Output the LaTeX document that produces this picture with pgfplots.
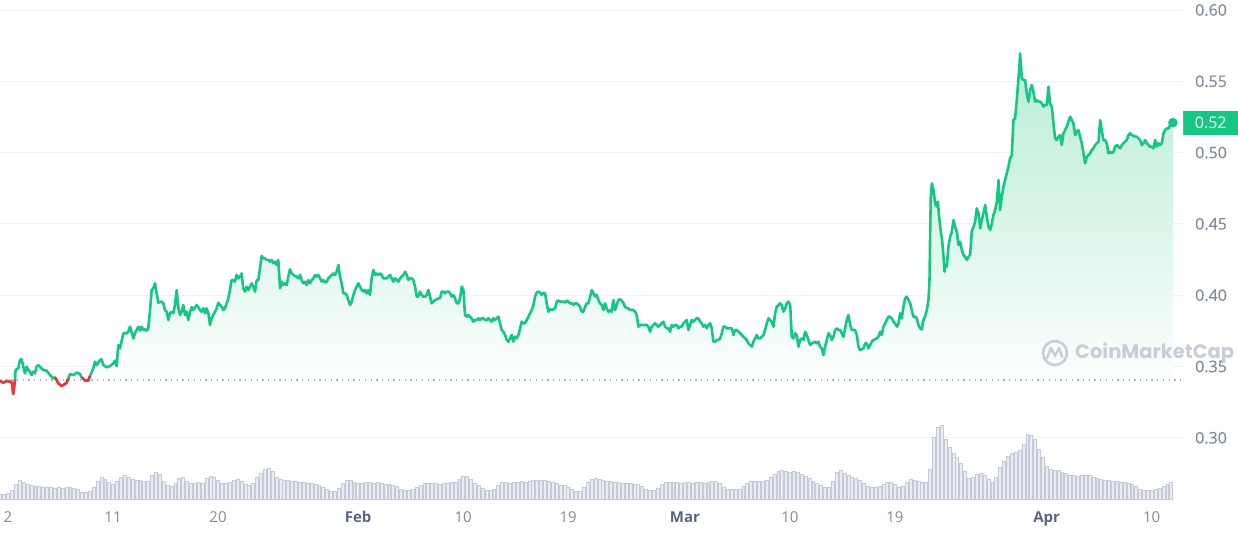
\documentclass[border=0pt]{standalone}
\usepackage{pgfplots}
\pgfplotsset{compat=1.18}
\usepackage{pgfplotstable}
\usepackage{fontspec}
\setmainfont{Open Sans}
\newfontfamily\tickfont{Open Sans}[FakeBold=0.35]
\newfontfamily\wmfont{Poppins}
\definecolor{cmcgreen}{RGB}{22,199,132}
\definecolor{cmcred}{RGB}{234,57,67}
\definecolor{ticktext}{RGB}{128,138,157}
\definecolor{monthtext}{RGB}{88,102,126}
\definecolor{gridc}{RGB}{240,241,244}
\definecolor{volfill}{RGB}{233,236,242}
\definecolor{voledge}{RGB}{196,202,216}
\definecolor{dotc}{RGB}{170,176,190}
\definecolor{fillTop}{RGB}{184,237,212}
\definecolor{wm}{RGB}{200,205,215}

\pgfplotstableread{
d p
0.31 0.3400
0.60 0.3386
0.88 0.3398
1.17 0.3394
1.34 0.3386
1.45 0.3307
1.60 0.3405
1.65 0.3475
1.88 0.3487
2.02 0.3545
2.17 0.3550
2.31 0.3499
2.45 0.3452
2.60 0.3499
2.74 0.3475
2.88 0.3464
3.02 0.3440
3.17 0.3464
3.31 0.3452
3.45 0.3499
3.60 0.3510
3.74 0.3499
4.02 0.3475
4.31 0.3471
4.60 0.3440
4.88 0.3417
5.02 0.3424
5.17 0.3405
5.31 0.3382
5.60 0.3363
5.88 0.3377
6.02 0.3386
6.17 0.3417
6.31 0.3447
6.60 0.3440
6.88 0.3457
7.17 0.3447
7.31 0.3424
7.60 0.3402
7.88 0.3402
8.02 0.3433
8.31 0.3487
8.45 0.3534
8.60 0.3510
8.88 0.3545
9.02 0.3550
9.17 0.3510
9.45 0.3494
9.74 0.3503
10.02 0.3522
10.17 0.3541
10.31 0.3503
10.45 0.3651
10.60 0.3627
10.88 0.3732
11.17 0.3732
11.31 0.3744
11.45 0.3779
11.60 0.3737
11.74 0.3697
11.88 0.3732
12.02 0.3756
12.17 0.3779
12.31 0.3751
12.45 0.3779
12.60 0.3756
12.74 0.3761
12.88 0.3751
13.02 0.3768
13.17 0.3896
13.31 0.4036
13.45 0.4048
13.60 0.4083
13.74 0.4013
13.88 0.3948
14.17 0.3955
14.31 0.3943
14.45 0.3896
14.60 0.3884
14.74 0.3826
14.88 0.3873
15.02 0.3884
15.17 0.3873
15.31 0.3931
15.45 0.4036
15.60 0.3908
15.74 0.3861
15.88 0.3884
16.02 0.3931
16.17 0.3861
16.31 0.3884
16.45 0.3826
16.60 0.3884
16.74 0.3915
16.88 0.3896
17.02 0.3915
17.17 0.3931
17.31 0.3915
17.45 0.3896
17.60 0.3884
17.74 0.3908
17.88 0.3873
18.02 0.3908
18.17 0.3873
18.31 0.3791
18.45 0.3838
18.59 0.3861
18.74 0.3884
18.88 0.3908
19.02 0.3947
19.16 0.3931
19.31 0.3919
19.45 0.3896
19.59 0.3908
19.74 0.3943
19.88 0.3978
20.02 0.4036
20.16 0.4106
20.31 0.4106
20.45 0.4095
20.59 0.4142
20.74 0.4118
20.88 0.4130
21.02 0.4153
21.16 0.4048
21.31 0.4025
21.45 0.4060
21.59 0.4036
21.74 0.4060
21.88 0.4083
22.02 0.4060
22.16 0.4025
22.31 0.4106
22.45 0.4106
22.59 0.4188
22.74 0.4275
22.88 0.4258
23.02 0.4258
23.16 0.4247
23.31 0.4247
23.45 0.4235
23.59 0.4247
23.74 0.4223
23.88 0.4235
24.02 0.4212
24.16 0.4247
24.31 0.4048
24.45 0.4095
24.59 0.4071
24.74 0.4083
24.88 0.4071
25.02 0.4130
25.16 0.4181
25.31 0.4153
25.45 0.4142
25.59 0.4135
25.74 0.4130
25.88 0.4118
26.02 0.4142
26.16 0.4106
26.31 0.4083
26.45 0.4095
26.59 0.4071
26.74 0.4106
26.88 0.4083
27.02 0.4106
27.16 0.4118
27.31 0.4142
27.45 0.4130
27.59 0.4142
27.74 0.4118
27.88 0.4095
28.02 0.4106
28.16 0.4088
28.31 0.4095
28.45 0.4118
28.59 0.4130
28.74 0.4142
28.88 0.4153
29.02 0.4142
29.16 0.4165
29.31 0.4212
29.45 0.4130
29.59 0.4083
29.74 0.4013
29.88 0.4013
30.02 0.4001
30.16 0.3966
30.31 0.3931
30.45 0.3954
30.59 0.4001
30.74 0.4036
30.88 0.4060
31.02 0.4083
31.16 0.4060
31.31 0.4036
31.45 0.4025
31.59 0.4036
31.74 0.4013
31.88 0.4036
32.02 0.4001
32.16 0.4118
32.31 0.4177
32.45 0.4142
32.59 0.4153
32.74 0.4142
32.88 0.4153
33.02 0.4142
33.16 0.4118
33.45 0.4118
33.59 0.4130
33.74 0.4142
33.88 0.4118
34.02 0.4095
34.16 0.4118
34.31 0.4106
34.45 0.4095
34.59 0.4118
34.73 0.4130
34.88 0.4142
35.02 0.4165
35.16 0.4142
35.30 0.4107
35.45 0.4118
35.59 0.4118
35.73 0.4107
35.88 0.4060
36.02 0.3990
36.16 0.3990
36.30 0.4025
36.45 0.4001
36.59 0.3990
36.73 0.3990
36.88 0.4001
37.02 0.4036
37.16 0.3990
37.30 0.3943
37.45 0.3955
37.59 0.3966
37.73 0.3971
37.88 0.3978
38.02 0.3978
38.16 0.4025
38.30 0.4025
38.45 0.4013
38.59 0.4025
38.73 0.4025
38.88 0.4013
39.02 0.3990
39.16 0.4001
39.30 0.3978
39.45 0.3943
39.59 0.3943
39.73 0.3978
39.88 0.4060
40.02 0.4036
40.16 0.3861
40.30 0.3849
40.45 0.3861
40.59 0.3849
40.73 0.3838
40.88 0.3814
41.02 0.3826
41.16 0.3826
41.30 0.3838
41.45 0.3826
41.59 0.3838
41.73 0.3838
41.88 0.3826
42.02 0.3826
42.16 0.3838
42.30 0.3826
42.45 0.3814
42.59 0.3838
42.73 0.3826
42.88 0.3838
43.02 0.3849
43.16 0.3803
43.30 0.3756
43.45 0.3744
43.59 0.3721
43.73 0.3686
43.88 0.3674
44.02 0.3697
44.16 0.3721
44.30 0.3674
44.45 0.3709
44.59 0.3697
44.73 0.3721
44.88 0.3768
45.02 0.3814
45.16 0.3803
45.30 0.3803
45.45 0.3826
45.59 0.3849
45.73 0.3873
45.88 0.3896
46.02 0.3931
46.16 0.3990
46.30 0.4018
46.45 0.4025
46.59 0.4018
46.73 0.4001
46.88 0.4018
47.02 0.4013
47.16 0.3943
47.30 0.3884
47.45 0.3901
47.59 0.3896
47.73 0.3901
47.88 0.3908
48.02 0.3955
48.16 0.3962
48.30 0.3955
48.45 0.3955
48.59 0.3955
48.73 0.3948
48.88 0.3962
49.02 0.3955
49.16 0.3943
49.30 0.3943
49.45 0.3931
49.59 0.3943
49.73 0.3943
49.88 0.3931
50.02 0.3919
50.16 0.3884
50.30 0.3884
50.45 0.3919
50.59 0.3943
50.73 0.3943
50.88 0.3990
51.02 0.4036
51.16 0.4013
51.30 0.3990
51.45 0.4001
51.59 0.3966
51.73 0.3943
51.87 0.3931
52.02 0.3896
52.16 0.3943
52.30 0.3908
52.44 0.3884
52.59 0.3896
52.73 0.3884
52.87 0.3966
53.02 0.3896
53.16 0.3931
53.30 0.3966
53.44 0.3971
53.59 0.3962
53.73 0.3943
53.87 0.3919
54.02 0.3908
54.16 0.3908
54.30 0.3896
54.59 0.3896
54.73 0.3884
54.87 0.3861
55.02 0.3779
55.16 0.3791
55.44 0.3791
55.73 0.3791
55.87 0.3779
56.02 0.3744
56.16 0.3779
56.30 0.3791
56.44 0.3803
56.59 0.3791
56.73 0.3779
56.87 0.3791
57.02 0.3803
57.16 0.3814
57.30 0.3779
57.44 0.3768
57.59 0.3768
57.73 0.3744
57.87 0.3791
58.02 0.3779
58.16 0.3791
58.30 0.3791
58.44 0.3768
58.59 0.3779
58.73 0.3779
58.87 0.3803
59.02 0.3814
59.16 0.3826
59.30 0.3756
59.44 0.3791
59.59 0.3826
59.73 0.3814
59.87 0.3826
60.02 0.3838
60.16 0.3838
60.30 0.3814
60.44 0.3803
60.59 0.3779
60.73 0.3791
60.87 0.3768
61.02 0.3791
61.16 0.3803
61.30 0.3768
61.44 0.3674
61.59 0.3674
61.73 0.3686
61.87 0.3686
62.02 0.3697
62.16 0.3733
62.30 0.3779
62.44 0.3779
62.59 0.3768
62.87 0.3768
63.02 0.3768
63.16 0.3721
63.30 0.3756
63.44 0.3756
63.59 0.3744
63.73 0.3733
63.87 0.3721
64.02 0.3709
64.16 0.3697
64.30 0.3686
64.44 0.3662
64.59 0.3651
64.73 0.3639
64.87 0.3674
65.02 0.3697
65.16 0.3721
65.30 0.3697
65.44 0.3697
65.59 0.3709
65.73 0.3721
65.87 0.3756
66.02 0.3803
66.16 0.3838
66.30 0.3826
66.44 0.3814
66.59 0.3779
66.73 0.3873
66.87 0.3919
67.02 0.3931
67.16 0.3943
67.30 0.3931
67.44 0.3884
67.59 0.3908
67.73 0.3943
67.87 0.3955
68.02 0.3931
68.16 0.3709
68.30 0.3697
68.44 0.3733
68.59 0.3721
68.73 0.3639
68.87 0.3686
69.01 0.3697
69.16 0.3686
69.30 0.3744
69.44 0.3721
69.58 0.3686
69.73 0.3651
69.87 0.3662
70.01 0.3667
70.16 0.3674
70.30 0.3662
70.44 0.3674
70.58 0.3639
70.73 0.3627
70.87 0.3580
71.01 0.3639
71.16 0.3686
71.30 0.3733
71.44 0.3721
71.58 0.3686
71.73 0.3709
71.87 0.3756
72.01 0.3767
72.16 0.3756
72.30 0.3756
72.44 0.3733
72.58 0.3709
72.73 0.3767
72.87 0.3826
73.01 0.3861
73.16 0.3791
73.30 0.3756
73.58 0.3756
73.73 0.3721
73.87 0.3639
74.01 0.3615
74.30 0.3627
74.44 0.3662
74.58 0.3662
74.73 0.3627
74.87 0.3651
75.01 0.3674
75.16 0.3686
75.44 0.3697
75.58 0.3709
75.73 0.3744
75.87 0.3721
76.01 0.3779
76.16 0.3802
76.30 0.3826
76.44 0.3849
76.58 0.3849
76.73 0.3837
76.87 0.3814
77.01 0.3802
77.16 0.3779
77.30 0.3802
77.44 0.3873
77.58 0.3837
77.73 0.3919
77.87 0.3978
78.01 0.3989
78.16 0.3966
78.30 0.3943
78.44 0.3896
78.58 0.3849
78.73 0.3849
78.87 0.3837
79.01 0.3791
79.16 0.3767
79.30 0.3760
79.44 0.3826
79.58 0.3849
79.73 0.3896
79.87 0.3966
79.96 0.4106
80.01 0.4410
80.07 0.4691
80.16 0.4784
80.30 0.4738
80.44 0.4644
80.58 0.4621
80.67 0.4656
80.81 0.4527
80.93 0.4445
81.04 0.4387
81.16 0.4270
81.24 0.4165
81.33 0.4212
81.44 0.4200
81.58 0.4340
81.73 0.4410
81.87 0.4445
82.01 0.4527
82.16 0.4480
82.30 0.4445
82.44 0.4352
82.58 0.4375
82.73 0.4317
82.87 0.4282
83.01 0.4270
83.16 0.4247
83.30 0.4270
83.44 0.4282
83.58 0.4445
83.73 0.4480
83.87 0.4516
84.01 0.4609
84.16 0.4574
84.30 0.4469
84.44 0.4527
84.58 0.4574
84.73 0.4632
84.87 0.4551
85.01 0.4480
85.16 0.4457
85.30 0.4504
85.44 0.4562
85.58 0.4597
85.73 0.4656
85.87 0.4808
86.01 0.4597
86.16 0.4691
86.30 0.4761
86.44 0.4808
86.58 0.4855
86.72 0.4901
86.86 0.4960
87.01 0.4983
87.15 0.5228
87.29 0.5240
87.44 0.5369
87.58 0.5521
87.66 0.5602
87.72 0.5696
87.81 0.5602
87.86 0.5521
88.01 0.5509
88.15 0.5509
88.29 0.5415
88.44 0.5357
88.58 0.5439
88.72 0.5474
88.86 0.5427
89.01 0.5357
89.15 0.5369
89.29 0.5357
89.44 0.5357
89.58 0.5345
89.72 0.5322
89.86 0.5334
90.01 0.5334
90.15 0.5462
90.29 0.5345
90.44 0.5322
90.58 0.5205
90.72 0.5100
90.86 0.5088
91.01 0.5112
91.15 0.5123
91.29 0.5053
91.44 0.5135
91.58 0.5158
91.72 0.5182
91.86 0.5217
92.01 0.5252
92.15 0.5228
92.29 0.5205
92.44 0.5123
92.58 0.5147
92.72 0.5158
92.86 0.5112
93.01 0.5065
93.15 0.4995
93.29 0.4924
93.44 0.4971
93.58 0.4983
93.72 0.4995
93.86 0.5018
94.01 0.5030
94.15 0.5053
94.29 0.5065
94.44 0.5076
94.58 0.5228
94.72 0.5158
94.86 0.5088
95.01 0.5088
95.15 0.5065
95.29 0.4995
95.44 0.5006
95.58 0.4995
95.72 0.5006
95.86 0.5041
96.01 0.5053
96.15 0.5041
96.29 0.5030
96.44 0.5053
96.58 0.5065
96.72 0.5076
96.86 0.5088
97.01 0.5123
97.15 0.5135
97.29 0.5123
97.58 0.5112
97.72 0.5112
97.86 0.5100
98.01 0.5088
98.15 0.5053
98.29 0.5065
98.44 0.5088
98.58 0.5065
98.72 0.5053
98.86 0.5041
99.01 0.5041
99.15 0.5030
99.29 0.5088
99.44 0.5041
99.58 0.5065
99.72 0.5053
99.86 0.5065
100.01 0.5135
100.15 0.5158
100.29 0.5170
100.44 0.5170
100.58 0.5193
100.81 0.5210
}\pricedata

\pgfplotstableread[row sep=\\]{
v\\
5\\5\\6\\9\\15\\19\\17\\15\\14\\13\\13\\12\\12\\12\\11\\12\\11\\12\\12\\11\\10\\7\\7\\8\\
12\\18\\22\\20\\17\\15\\18\\22\\24\\22\\20\\19\\19\\18\\18\\24\\27\\25\\18\\14\\13\\16\\21\\22\\
18\\16\\16\\17\\16\\21\\23\\22\\19\\16\\16\\17\\19\\20\\18\\15\\14\\16\\22\\26\\30\\31\\28\\22\\
20\\19\\19\\18\\18\\17\\17\\16\\16\\15\\14\\12\\10\\8\\8\\11\\16\\19\\19\\17\\16\\16\\17\\17\\
16\\17\\16\\15\\15\\14\\13\\10\\9\\9\\10\\12\\14\\16\\16\\16\\16\\15\\16\\16\\17\\17\\20\\23\\
23\\20\\16\\14\\11\\9\\9\\10\\14\\17\\17\\16\\17\\17\\18\\17\\18\\19\\19\\19\\19\\18\\17\\16\\
14\\14\\12\\10\\8\\8\\12\\17\\20\\21\\20\\19\\18\\18\\17\\17\\16\\16\\16\\15\\15\\13\\10\\9\\
9\\11\\15\\17\\17\\17\\17\\16\\17\\17\\16\\17\\17\\16\\17\\18\\18\\16\\12\\10\\10\\10\\10\\13\\
16\\18\\18\\18\\18\\19\\22\\25\\28\\29\\28\\27\\28\\27\\25\\23\\21\\18\\16\\14\\12\\12\\18\\27\\
29\\26\\24\\22\\21\\19\\16\\13\\12\\12\\13\\15\\17\\17\\15\\12\\13\\17\\20\\19\\18\\17\\17\\30\\
62\\72\\74\\60\\52\\46\\42\\36\\28\\21\\22\\25\\26\\24\\20\\17\\22\\32\\38\\43\\46\\47\\49\\55\\
65\\64\\60\\50\\42\\33\\30\\29\\29\\27\\26\\24\\24\\23\\24\\24\\24\\22\\21\\20\\19\\19\\18\\18\\
17\\17\\16\\15\\13\\10\\9\\9\\9\\10\\11\\13\\15\\17\\
}\voldata

\begin{document}
\begin{tikzpicture}
\useasboundingbox (0pt,-34pt) rectangle (1238pt,499pt);
\begin{axis}[
  scale only axis, width=1183pt, height=499pt,
  at={(0pt,0pt)}, anchor=south west,
  xmin=0.3145, xmax=101.68, ymin=0.25707, ymax=0.607,
  axis line style={draw=none},
  major tick length=0pt,
  ytick={0.30,0.35,0.40,0.45,0.50,0.55,0.60},
  yticklabels={0.30,0.35,0.40,0.45,0.50,0.55,0.60},
  yticklabel pos=right,
  yticklabel style={anchor=west, inner xsep=12pt, inner ysep=0pt, text=ticktext, font=\tickfont\fontsize{16}{19}\selectfont},
  ymajorgrids,
  grid style={gridc, line width=0.8pt},
  xtick={1,10,19,31,40,49,59,68,77,90,99},
  xticklabels={2,11,20,\textcolor{monthtext}{\bfseries Feb},10,19,\textcolor{monthtext}{\bfseries Mar},10,19,\textcolor{monthtext}{\bfseries Apr},10},
  xticklabel style={anchor=base, inner sep=0pt, yshift=-23pt, text=ticktext, font=\fontsize{15}{18}\selectfont},
  extra y ticks={0.521},
  extra y tick labels={0.52},
  extra y tick style={grid=none, yticklabel style={fill=cmcgreen, text=white, minimum width=55pt, minimum height=24pt, inner xsep=0pt, font=\fontsize{16}{19}\selectfont}},
]
\addplot[draw=none, top color=fillTop, bottom color=white, forget plot] table {\pricedata}
  -- (axis cs:100.81,0.3406) -- (axis cs:0.31,0.3406) -- cycle;
\addplot[dotc, line width=1.3pt, dash pattern=on 1.3pt off 4.4pt] coordinates {(0.3145,0.3406) (101.68,0.3406)};
\addplot[cmcgreen, line width=2.6pt, line join=round] table {\pricedata};
\addplot[cmcred, line width=2.6pt, line join=round] coordinates {(0.31,0.3400) (0.60,0.3386) (0.88,0.3398) (1.17,0.3394) (1.34,0.3386) (1.45,0.3307) (1.60,0.3405)};
\addplot[cmcred, line width=2.6pt, line join=round] coordinates {(5.02,0.3424) (5.17,0.3405) (5.31,0.3382) (5.60,0.3363) (5.88,0.3377) (6.02,0.3386) (6.17,0.3417)};
\addplot[cmcred, line width=2.6pt, line join=round] coordinates {(7.31,0.3424) (7.60,0.3402) (7.88,0.3402) (8.02,0.3433)};
\addplot[only marks, mark=*, mark size=4.6pt, mark options={fill=cmcgreen, draw=cmcgreen}] coordinates {(100.81,0.5210)};
\draw[gridc, line width=0.8pt] (rel axis cs:1,0.02) -- (rel axis cs:1,1);
\end{axis}
\begin{axis}[
  scale only axis, width=1183pt, height=499pt,
  at={(0pt,0pt)}, anchor=south west,
  xmin=0.3145, xmax=101.68, ymin=0, ymax=499,
  hide axis,
]
\addplot[ybar, bar width=0.25, fill=volfill, draw=voledge, line width=0.5pt]
  table[x expr={(\coordindex+1)/3}, y=v] {\voldata};
\end{axis}
\draw[wm, line width=2.6pt] (1055pt,146pt) circle (12pt);
\draw[wm, line width=2.4pt, line join=round, line cap=round] (1047pt,141pt) -- (1051pt,151pt) -- (1055pt,143pt) -- (1059pt,151pt) -- (1062pt,142pt);
\node[anchor=west, inner sep=0pt, text=wm, font=\wmfont\bfseries\fontsize{19.5}{22}\selectfont] at (1075pt,146pt) {CoinMarketCap};
\end{tikzpicture}
\end{document}
